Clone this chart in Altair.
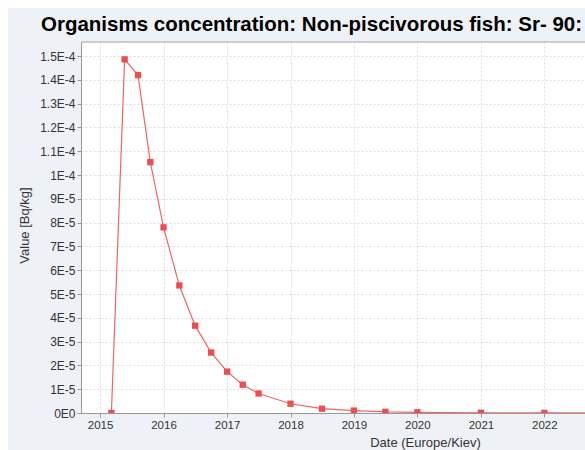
import altair as alt
import pandas as pd

# Sr-90 concentration in non-piscivorous fish
dates = [
    "2015-03-07", "2015-05-22", "2015-08-07", "2015-10-17",
    "2016-01-01", "2016-04-01", "2016-07-01", "2016-10-01",
    "2017-01-01", "2017-04-01", "2017-07-01",
    "2018-01-01", "2018-07-01", "2019-01-01", "2019-07-01",
    "2020-01-01", "2021-01-01", "2022-01-01", "2023-01-01",
]
values = [
    0.0, 1.486e-4, 1.420e-4, 1.054e-4,
    7.80e-5, 5.36e-5, 3.67e-5, 2.54e-5,
    1.74e-5, 1.19e-5, 8.2e-6,
    3.9e-6, 1.8e-6, 1.0e-6, 5.0e-7,
    3.0e-7, 1.0e-7, 5.0e-8, 2.0e-8,
]
y_ticks = [0, 1e-5, 2e-5, 3e-5, 4e-5, 5e-5, 6e-5, 7e-5, 8e-5, 9e-5,
           1e-4, 1.1e-4, 1.2e-4, 1.3e-4, 1.4e-4, 1.5e-4]
x_years = [2015, 2016, 2017, 2018, 2019, 2020, 2021, 2022]

title_text = "Organisms concentration: Non-piscivorous fish: Sr- 90:"
y_title = "Value [Bq/kg]"
x_title = "Date (Europe/Kiev)"

W, H = 504, 371
PANEL = "#eef2f7"
LINE = "#f06666"
POINT = "#f04b4f"
FONT = "Liberation Sans"

df = pd.DataFrame({"date": dates, "value": values})

x_enc = alt.X(
    "date:T",
    scale=alt.Scale(
        type="utc",
        domain=[alt.DateTime(year=2014, month=9, date=13, utc=True),
                alt.DateTime(year=2022, month=8, date=23, utc=True)],
    ),
    axis=alt.Axis(
        values=[alt.DateTime(year=y, month=1, date=1, utc=True) for y in x_years],
        format="%Y",
        labelFontSize=11.5,
        title=x_title,
        titleX=344,
        titleY=29,
        titleAlign="center",
        titleBaseline="middle",
    ),
)
y_enc = alt.Y(
    "value:Q",
    scale=alt.Scale(domain=[0, 1.559e-4], nice=False, zero=True),
    axis=alt.Axis(
        values=y_ticks,
        labelExpr="replace(upper(format(datum.value, '.2~e')), '+', '')",
        labelFontSize=12,
        title=y_title,
        titleX=-57,
        titleY=183,
        titleAlign="center",
        titleBaseline="middle",
    ),
)

base = alt.Chart(df)

line = base.mark_line(color=LINE, strokeWidth=1.2, clip=True).encode(x=x_enc, y=y_enc)
points = base.mark_square(color=POINT, size=40, opacity=1, clip=True).encode(x=x_enc, y=y_enc)

frame_src = alt.Chart(pd.DataFrame({"k": [0]}))
# white margin above and left of the grey panel
top_strip = frame_src.mark_rect(color="white").encode(
    x=alt.value(-81), x2=alt.value(W), y=alt.value(-42), y2=alt.value(-34))
left_strip = frame_src.mark_rect(color="white").encode(
    x=alt.value(-81), x2=alt.value(-73), y=alt.value(-42), y2=alt.value(H + 37))
# upper border of the plot area
top_border = frame_src.mark_rule(color="#a0a0a0", strokeWidth=1).encode(
    x=alt.value(0), x2=alt.value(W), y=alt.value(0))

chart = (
    alt.layer(top_strip, left_strip, top_border, line, points)
    .properties(
        width=W,
        height=H,
        autosize=alt.AutoSizeParams(type="none"),
        padding={"left": 81, "top": 42, "right": 0, "bottom": 37},
        background=PANEL,
        title=alt.TitleParams(
            text=title_text,
            anchor="start",
            frame="group",
            dx=-40,
            dy=39,
            font=FONT,
            fontSize=20.5,
            fontWeight="bold",
            color="black",
        ),
    )
    .configure_view(fill="white", stroke=None)
    .configure_axis(
        labelFont=FONT,
        labelColor="#333333",
        titleFont=FONT,
        titleFontSize=13,
        titleFontWeight="normal",
        titleColor="#333333",
        domainColor="#999999",
        tickColor="#999999",
        tickSize=4,
        labelPadding=2,
        grid=True,
        gridColor="#dedede",
        gridDash=[2, 2],
        gridWidth=1,
    )
)

chart.save("out.html", embed_options={"renderer": "svg", "actions": False})
